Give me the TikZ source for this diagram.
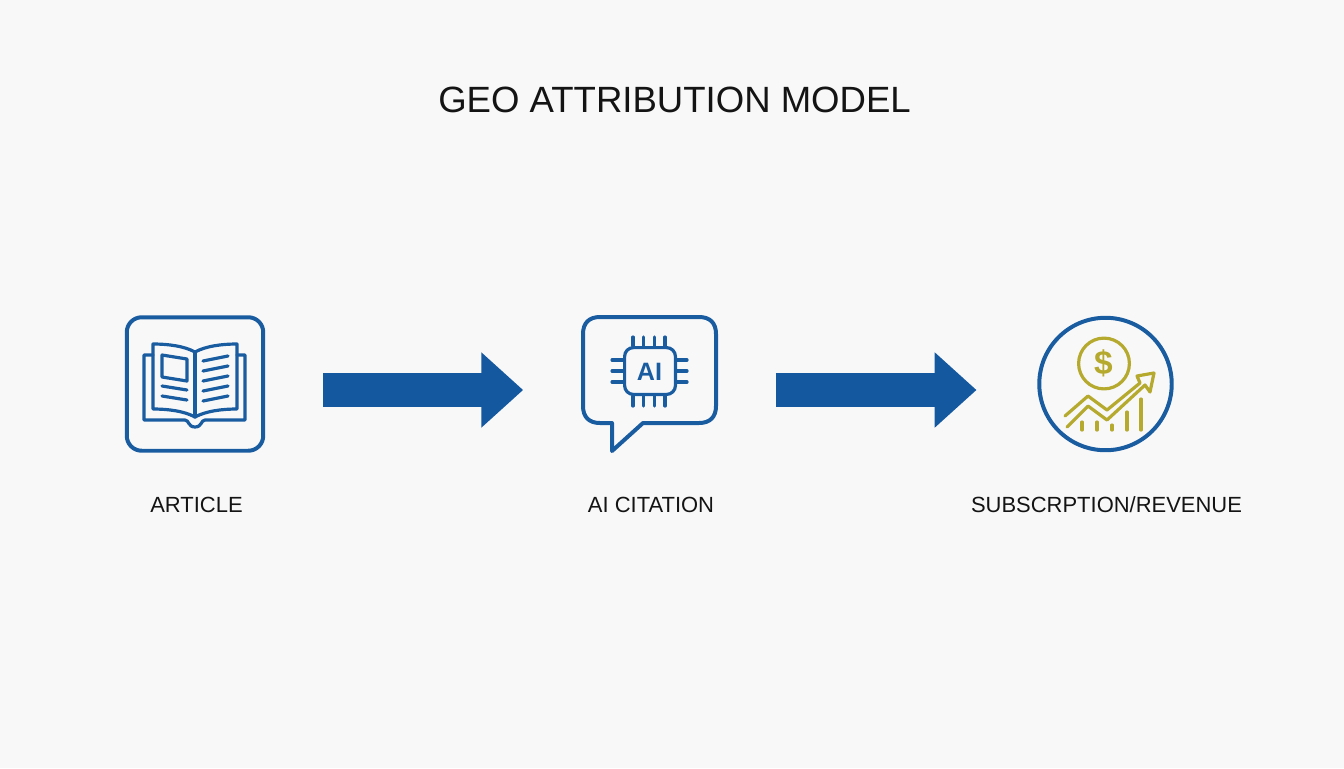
\documentclass[tikz,border=0pt]{standalone}
\usepackage{fontspec}
\setmainfont{Liberation Sans}
\usepackage{tikz}
\usetikzlibrary{arrows.meta}
\usetikzlibrary{positioning}
\definecolor{pagegrey}{HTML}{F8F8F9}
\definecolor{iconblue}{HTML}{1A5CA0}
\definecolor{arrowblue}{HTML}{14589F}
\definecolor{coingold}{HTML}{B5A92E}
\definecolor{inkblack}{HTML}{141414}
\newcommand{\px}{0.5669pt}
\tikzset{
    frameline/.style={draw=iconblue, line width=4*\px, line join=round, line cap=round},
    iconline/.style={draw=iconblue, line width=3.2*\px, line join=round, line cap=round},
    goldline/.style={draw=coingold, line width=3.2*\px, line join=round, line cap=round},
    flowarrow/.style={draw=arrowblue, line width=34*\px, shorten <=60*\px, shorten >=60*\px,
        -{Triangle[length=42*\px, width=73*\px, sep=0pt]}},
    caption/.style={text=inkblack, font=\fontsize{12.5pt}{15pt}\selectfont, inner sep=0pt},
}
\begin{document}
\begin{tikzpicture}[x=0.02cm, y=-0.02cm]
        \fill[pagegrey] (0,0) rectangle (1344,768);
        \useasboundingbox (0,0) rectangle (1344,768);
        \node[text=inkblack, font=\fontsize{20.8pt}{24pt}\selectfont, inner sep=0pt] (title) at (674.5,100) {GEO ATTRIBUTION MODEL};
        \coordinate (flowlevel) at (0,390);

        % article
        \node[frameline, rounded corners=8.5pt, minimum width=137*\px, minimum height=134*\px, inner sep=0pt] (article) at (195,384) {};
        \draw[iconline] (153,355) -- (144,355) -- (144,420) -- (185,420) .. controls (189,420) and (188,427) .. (195,427) .. controls (202,427) and (201,420) .. (205,420) -- (245,420) -- (245,355) -- (237,355);
        \draw[iconline] (195,352) .. controls (184,346) and (168,344) .. (153,344) -- (153,409) .. controls (168,409) and (184,411) .. (195,417)
            .. controls (206,411) and (222,409) .. (237,409) -- (237,344) .. controls (222,344) and (206,346) .. (195,352) -- cycle;
        \draw[iconline] (195,352) -- (195,417);
        \draw[iconline] (162,355) -- (187,359) -- (187,381) -- (162,377) -- cycle;
        \foreach \y in {0,10}
        {
            \draw[iconline] (162,{386+\y}) -- (187,{390+\y});
        }
        \foreach \y in {0,1,2,3,4}
        {
            \draw[iconline] (203,{361+10*\y}) -- (228,{356+10*\y});
        }
        \node[caption] (articletext) at (196.5,505) {ARTICLE};

        % citation
        \node[inner sep=0pt, minimum width=133*\px, minimum height=106*\px] (citation) at (649.5,370) {};
        \draw[frameline] (600,317) -- (699,317) .. controls (710,317) and (716,323) .. (716,334) -- (716,406) .. controls (716,417) and (710,423) .. (699,423)
            -- (643,423) -- (612,451) -- (612,423) -- (600,423) .. controls (589,423) and (583,417) .. (583,406) -- (583,334) .. controls (583,323) and (589,317) .. (600,317) -- cycle;
        \node[iconline, rounded corners=5pt, minimum width=51*\px, minimum height=47*\px, inner sep=0pt] (chip) at (650,371) {};
        \node[text=iconblue, font=\fontsize{14.3pt}{16pt}\selectfont\bfseries, inner sep=0pt] (chiptext) at (649.5,371.5) {AI};
        \foreach \x in {-1.5,-0.5,0.5,1.5}
        {
            \draw[iconline] ({649+10.7*\x},337) -- ({649+10.7*\x},346);
            \draw[iconline] ({649+10.7*\x},396) -- ({649+10.7*\x},406);
        }
        \foreach \y in {-1,0,1}
        {
            \draw[iconline] (612,{371+11*\y}) -- (623,{371+11*\y});
            \draw[iconline] (677,{371+11*\y}) -- (687,{371+11*\y});
        }
        \node[caption] (citationtext) at (651,505) {AI CITATION};

        % revenue
        \node[circle, draw=iconblue, line width=4*\px, minimum size=133*\px, inner sep=0pt] (revenue) at (1105.5,384) {};
        \node[circle, goldline, minimum size=51*\px, inner sep=0pt] (coin) at (1104,363.5) {};
        \node[text=coingold, font=\fontsize{19pt}{22pt}\selectfont\bfseries, inner sep=0pt] (cointext) at (1103.5,363) {\$};
        \draw[goldline] (1065,416) -- (1088,396) -- (1107,410) -- (1140,383) -- (1137,376) -- (1154,373) -- (1150,392) -- (1145,385) -- (1107,420) -- (1088,406) -- (1067,427);
        \foreach \x/\y in {1082/422, 1097/422, 1112/425, 1127/412, 1141/399}
        {
            \draw[goldline] (\x,\y) -- (\x,430);
        }
        \node[caption] (revenuetext) at (1106.5,505) {SUBSCRPTION/REVENUE};

        % flow
        \draw[flowarrow, shorten <=58.5*\px] (article.east |- flowlevel) -- (citation.west |- flowlevel);
        \draw[flowarrow, shorten >=61*\px] (citation.east |- flowlevel) -- (revenue.west |- flowlevel);
\end{tikzpicture}
\end{document}
